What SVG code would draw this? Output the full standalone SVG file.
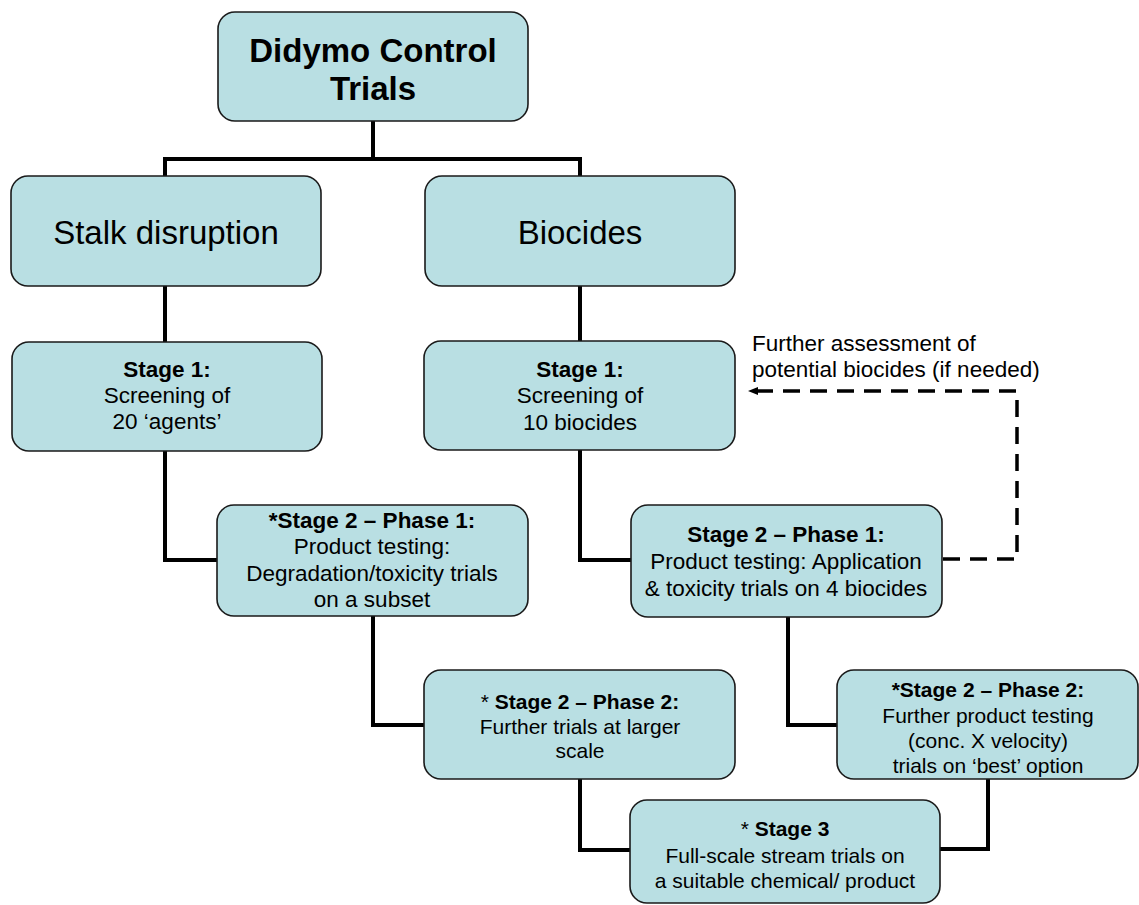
<svg xmlns="http://www.w3.org/2000/svg" width="1139" height="905" viewBox="0 0 1139 905">
<defs>
<style>
.box{fill:#b9dfe3;stroke:#1a1a1a;stroke-width:1.6}
text{font-family:"Liberation Sans",Arial,sans-serif;fill:#000;text-anchor:middle}
.b{font-weight:bold}
.t1{font-size:33px}
.t2{font-size:22.5px}
.t3{font-size:21px}
.conn{fill:none;stroke:#000;stroke-width:4}
.dash{fill:none;stroke:#000;stroke-width:3.5;stroke-dasharray:17 10}
</style>
<marker id="arr" viewBox="0 0 10 10" refX="9" refY="5" markerWidth="10" markerHeight="10" markerUnits="userSpaceOnUse" orient="auto">
<path d="M0 1 L10 5 L0 9 Z" fill="#000"/>
</marker>
</defs>
<rect width="1139" height="905" fill="#fff"/>
<g id="connectors">
<path class="conn" d="M373 121 V159 M165 176 V159 H580 V176"/>
<path class="conn" d="M165 286 V342"/>
<path class="conn" d="M580 286 V341"/>
<path class="conn" d="M165 451 V560 H217"/>
<path class="conn" d="M580 450 V560 H631"/>
<path class="conn" d="M373 616 V725 H424"/>
<path class="conn" d="M788 617 V725 H837"/>
<path class="conn" d="M580 779 V850 H630"/>
<path class="conn" d="M988 779 V849 H940"/>
<path class="dash" d="M943 559 H1017 V391 H749" marker-end="url(#arr)"/>
<text class="t2" x="752" y="351" style="text-anchor:start">Further assessment of</text>
<text class="t2" x="752" y="377" style="text-anchor:start">potential biocides (if needed)</text>
</g>
<g id="title">
<rect class="box" x="218" y="12" width="310" height="109" rx="17"/>
<text class="t1 b" x="373" y="62">Didymo Control</text>
<text class="t1 b" x="373" y="100">Trials</text>
</g>
<g id="stalk">
<rect class="box" x="11" y="176" width="310" height="110" rx="17"/>
<text class="t1" x="166" y="244">Stalk disruption</text>
</g>
<g id="biocides">
<rect class="box" x="425" y="176" width="310" height="110" rx="17"/>
<text class="t1" x="580" y="244">Biocides</text>
</g>
<g id="stage1-left">
<rect class="box" x="12" y="342" width="310" height="109" rx="17"/>
<text class="t2 b" x="167" y="377">Stage 1:</text>
<text class="t2" x="167" y="403">Screening of</text>
<text class="t2" x="167" y="429">20 ‘agents’</text>
</g>
<g id="stage1-right">
<rect class="box" x="424" y="341" width="311" height="109" rx="17"/>
<text class="t2 b" x="580" y="377">Stage 1:</text>
<text class="t2" x="580" y="403">Screening of</text>
<text class="t2" x="580" y="430"> 10 biocides</text>
</g>
<g id="s2p1-left">
<rect class="box" x="217" y="505" width="311" height="111" rx="17"/>
<text class="t2 b" x="372" y="528">*Stage 2 – Phase 1:</text>
<text class="t2" x="372" y="554">Product testing:</text>
<text class="t2" x="372" y="581">Degradation/toxicity trials</text>
<text class="t2" x="372" y="607">on a subset</text>
</g>
<g id="s2p1-right">
<rect class="box" x="631" y="505" width="311" height="112" rx="17"/>
<text class="t2 b" x="786" y="542">Stage 2 – Phase 1:</text>
<text class="t2" x="786" y="569">Product testing: Application</text>
<text class="t2" x="786" y="596">&amp; toxicity trials on 4 biocides</text>
</g>
<g id="s2p2-left">
<rect class="box" x="424" y="670" width="311" height="109" rx="17"/>
<text class="t3" x="580" y="709"><tspan>* </tspan><tspan class="b">Stage 2 – Phase 2:</tspan></text>
<text class="t3" x="580" y="734">Further trials at larger</text>
<text class="t3" x="580" y="758">scale</text>
</g>
<g id="s2p2-right">
<rect class="box" x="837" y="670" width="301" height="109" rx="17"/>
<text class="t3 b" x="988" y="697">*Stage 2 – Phase 2:</text>
<text class="t3" x="988" y="723">Further product testing</text>
<text class="t3" x="988" y="748">(conc. X velocity)</text>
<text class="t3" x="988" y="773">trials on ‘best’ option</text>
</g>
<g id="stage3">
<rect class="box" x="630" y="800" width="310" height="103" rx="17"/>
<text class="t3" x="785" y="836"><tspan>* </tspan><tspan class="b">Stage 3</tspan></text>
<text class="t3" x="785" y="863">Full-scale stream trials on</text>
<text class="t3" x="785" y="888">a suitable chemical/ product</text>
</g>
</svg>
